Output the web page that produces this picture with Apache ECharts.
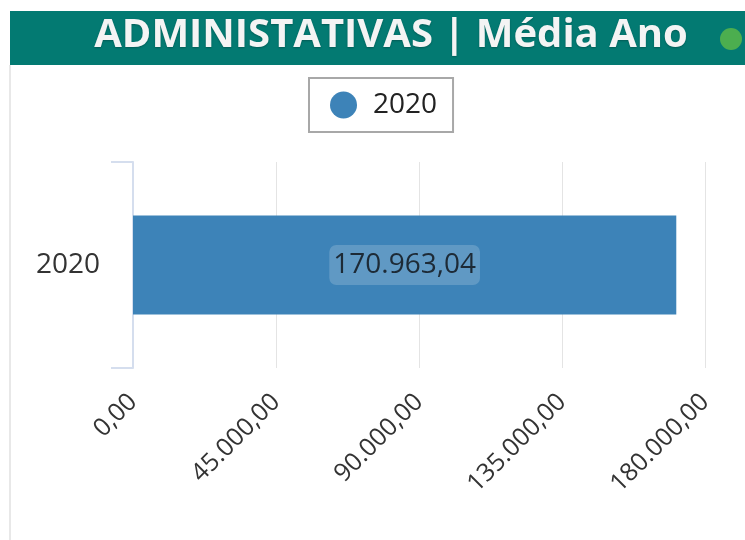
<!DOCTYPE html>
<html>
<head>
<meta charset="utf-8">
<script src="https://cdn.jsdelivr.net/npm/echarts@6/dist/echarts.min.js"></script>
<style>
	html, body { margin: 0; padding: 0; background: #fff; }
	#chart { width: 745px; height: 540px; }
</style>
</head>
<body>
<div id="chart"></div>
<script>
// dados
var categories = ['2020'];
var seriesName = '2020';
var values = [170963.04];
var axisMin = 0;
var axisMax = 180000;
var axisStep = 45000;

// formato pt-BR: 170.963,04
function fmt(v) {
	var parts = Number(v).toFixed(2).split('.');
	var inteiro = parts[0].replace(/\B(?=(\d{3})+(?!\d))/g, '.');
	return inteiro + ',' + parts[1];
}

var chart = echarts.init(document.getElementById('chart'));

chart.setOption({
	backgroundColor: '#fff',
	textStyle: { fontFamily: '"Open Sans", "Noto Sans", sans-serif' },
	graphic: [
		{ type: 'rect', shape: { x: 10, y: 11, width: 735, height: 54 }, style: { fill: '#037a72' }, z: 0 },
		{ type: 'line', shape: { x1: 10, y1: 65, x2: 10, y2: 540 }, style: { stroke: '#e8e8e8', lineWidth: 2 } },
		{ type: 'circle', shape: { cx: 731, cy: 39, r: 11 }, style: { fill: '#4cae4f' }, z: 10 }
	],
	title: {
		text: 'ADMINISTATIVAS | Média Ano',
		left: 386,
		textAlign: 'center',
		top: 11,
		textStyle: {
			color: '#f4f4f4',
			fontSize: 40,
			fontWeight: 'bold',
			fontFamily: '"Open Sans", sans-serif',
			textShadowColor: 'rgba(0,0,0,0.25)',
			textShadowBlur: 2,
			textShadowOffsetY: 1
		}
	},
	legend: {
		top: 78,
		left: 309,
		icon: 'circle',
		itemWidth: 27,
		itemHeight: 27,
		itemGap: 10,
		padding: [13, 16, 13, 21],
		borderColor: '#a8a8a8',
		borderWidth: 2,
		selectedMode: false,
		textStyle: { fontSize: 28, color: '#222', padding: [0, 0, 0, 11] },
		data: [seriesName]
	},
	grid: {
		left: 133,
		right: 40,
		top: 162,
		bottom: 172,
		containLabel: false
	},
	xAxis: {
		type: 'value',
		min: axisMin,
		max: axisMax,
		interval: axisStep,
		axisLine: { show: false },
		axisTick: { show: false },
		splitLine: { lineStyle: { color: '#e4e4e4', width: 1 } },
		axisLabel: {
			rotate: 45,
			margin: 30,
			fontSize: 25,
			color: '#333',
			formatter: function (v) { return fmt(v); }
		}
	},
	yAxis: {
		type: 'category',
		data: categories,
		axisLine: { lineStyle: { color: '#d5deee', width: 2 } },
		axisTick: { show: true, interval: 0, length: 22, lineStyle: { color: '#d5deee', width: 2 } },
		axisLabel: { fontSize: 28, color: '#333', margin: 33 }
	},
	series: [
		{
			name: seriesName,
			type: 'bar',
			data: values,
			barWidth: 99,
			itemStyle: { color: '#3d83b8' },
			label: {
				show: true,
				position: 'inside',
				fontSize: 28,
				color: '#1d2a36',
				backgroundColor: 'rgba(255,255,255,0.18)',
				borderRadius: 7,
				padding: [7, 4, 5, 4],
				formatter: function (p) { return fmt(p.value); }
			}
		}
	]
});
</script>
</body>
</html>
